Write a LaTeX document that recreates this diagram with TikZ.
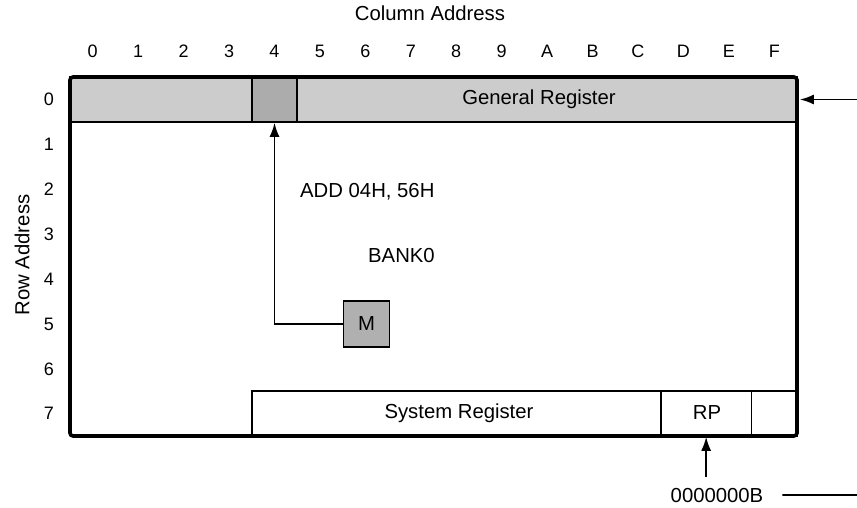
\documentclass[tikz,border=0pt]{standalone}
\usepackage{fontspec}
\setmainfont{Liberation Sans}
\usetikzlibrary{arrows.meta}
\begin{document}
\begin{tikzpicture}[x=1pt,y=-1pt,
  lbl/.style={font=\fontsize{20.3}{22}\selectfont, inner sep=0pt},
  num/.style={font=\fontsize{18}{20}\selectfont, inner sep=0pt},
  thinline/.style={line width=1.7pt},
  conn/.style={line width=1.7pt, -{Latex[length=14pt,width=10pt]}},
  cellbox/.style={draw, thinline, inner sep=0pt, minimum height=44.9pt},
]
\useasboundingbox (0,0) rectangle (857,508);

% row 0 band
\node[cellbox, fill=gray!40, minimum width=727pt] (band) at (433.5,99.5) {};
\node[cellbox, fill=gray!65, minimum width=45.4pt] (c4) at (274.5,99.5) {};
\node[lbl, anchor=base] (gen) at (539,104.5) {General Register};

% row 7
\node[cellbox, minimum width=408.9pt] (sys) at (456.25,413.5) {};
\node[cellbox, minimum width=90.9pt] (rp) at (706.15,413.5) {};
\node[cellbox, minimum width=45.4pt] (last) at (774.3,413.5) {};
\node[lbl, anchor=base] (systxt) at (459,418) {System Register};
\node[lbl, anchor=base] (rptxt) at (707,419) {RP};

% outer frame
\draw[line width=3.6pt, rounded corners=3pt] (70,77) rectangle (797,436);

% M box
\node[cellbox, fill=gray!62, minimum width=46pt, minimum height=46pt] (M) at (366.5,324) {};
\node[lbl] (Mtxt) at (366.5,324) {M};
\draw[conn] (M.west) -| (c4.south);

% texts
\node[lbl, anchor=base west] (add) at (300,197) {ADD 04H, 56H};
\node[lbl, anchor=base west] (bank) at (368,262) {BANK0};

% right arrow
\coordinate (rin) at (857,99.5);
\draw[conn] (rin) -- ([xshift=2pt]band.east);

% bottom arrow
\coordinate (rpin) at (706.15,477);
\draw[conn] (rpin) -- (rp.south);
\node[lbl, anchor=base] (ob) at (717,502) {0000000B};
\coordinate (obend) at (857,495);
\draw[thinline] ([xshift=19pt]ob.east) -- (obend);

% axis titles
\node[lbl, anchor=base] (coltitle) at (430,21) {Column Address};
\node[lbl, rotate=90] (rowtitle) at (22,255) {Row Address};

% column numbers
\foreach \t [count=\i from 0] in {0,1,2,3,4,5,6,7,8,9,A,B,C,D,E,F}
  \node[num, anchor=base] (col\i) at ({92.7+45.44*\i},58) {\t};
% row numbers
\foreach \i in {0,...,7}
  \node[num] (row\i) at (49,{99.5+44.9*\i}) {\i};
\end{tikzpicture}
\end{document}
